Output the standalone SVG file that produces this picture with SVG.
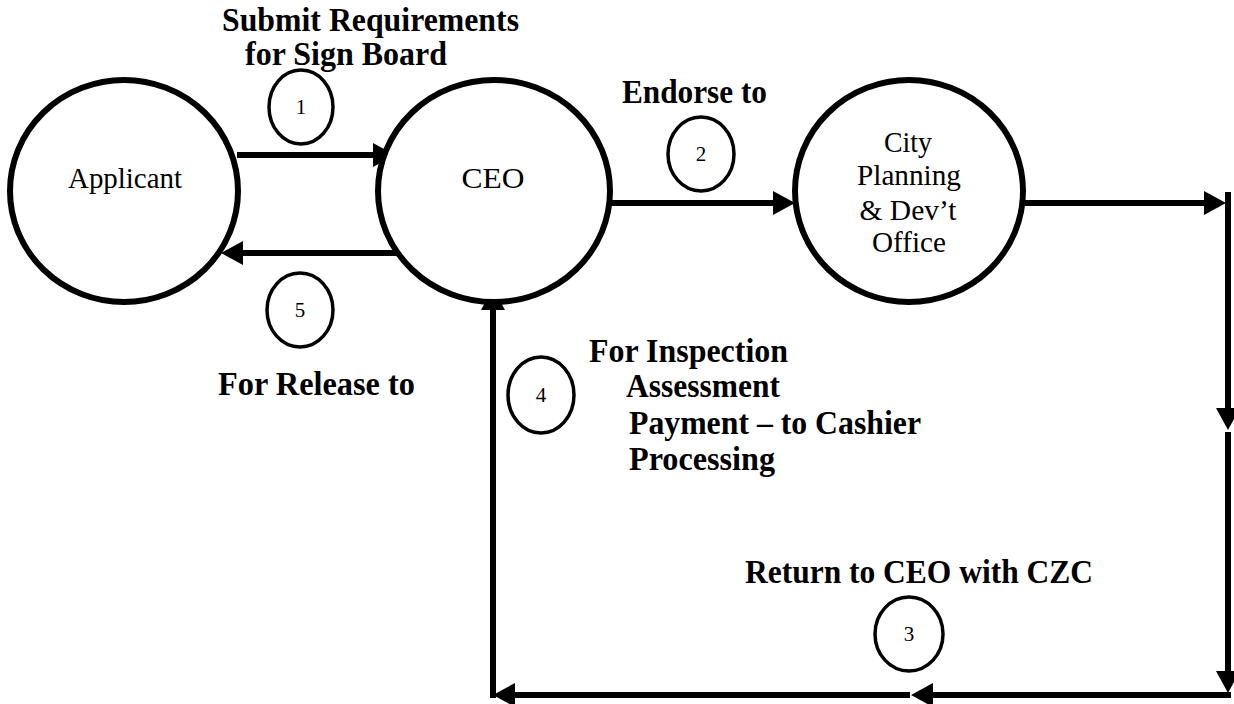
<svg xmlns="http://www.w3.org/2000/svg" width="1234" height="704" viewBox="0 0 1234 704">
<style>
.node{fill:#fff;stroke:#000;stroke-width:6}
.num{fill:#fff;stroke:#000;stroke-width:3.5}
text{font-family:'Liberation Serif','Times New Roman',Times,serif;fill:#000}
.lbl{font-weight:bold;font-size:33px}
.nt{font-size:29px;text-anchor:middle}
.nn{font-size:21px;text-anchor:middle}
.conn{stroke:#000;stroke-width:6;fill:none;marker-end:url(#ah)}
</style>
<defs>
<marker id="ah" markerUnits="userSpaceOnUse" markerWidth="22" markerHeight="24" viewBox="0 0 22 24" refX="1" refY="12" orient="auto">
<path d="M0,0 L22,12 L0,24 z" fill="#000"/>
</marker>
</defs>
<rect width="1234" height="704" fill="#fff"/>
<g id="connectors">
<line class="conn" x1="237" y1="155" x2="374" y2="155"/>
<line class="conn" x1="397" y1="253" x2="242" y2="253"/>
<line class="conn" x1="607" y1="203" x2="774" y2="203"/>
<line class="conn" x1="1024" y1="203" x2="1205" y2="203"/>
<line class="conn" x1="1228" y1="192" x2="1228" y2="409"/>
<line class="conn" x1="1228" y1="432" x2="1228" y2="672"/>
<line class="conn" x1="1231" y1="695" x2="932" y2="695"/>
<line class="conn" x1="910" y1="695" x2="514" y2="695"/>
<line class="conn" x1="493" y1="698" x2="493" y2="309"/>
</g>
<g id="applicant">
<ellipse class="node" cx="124" cy="191" rx="114" ry="111"/>
<text class="nt" x="125" y="188" textLength="114" lengthAdjust="spacingAndGlyphs">Applicant</text>
</g>
<g id="ceo">
<ellipse class="node" cx="494" cy="191" rx="116" ry="111"/>
<text class="nt" x="493" y="188" textLength="63" lengthAdjust="spacingAndGlyphs">CEO</text>
</g>
<g id="cpdo">
<ellipse class="node" cx="909" cy="191" rx="114" ry="111"/>
<text class="nt" x="908" y="152" textLength="48" lengthAdjust="spacingAndGlyphs">City</text>
<text class="nt" x="909" y="185" textLength="104" lengthAdjust="spacingAndGlyphs">Planning</text>
<text class="nt" x="908" y="220" textLength="97" lengthAdjust="spacingAndGlyphs">&amp; Dev’t</text>
<text class="nt" x="909" y="252" textLength="74" lengthAdjust="spacingAndGlyphs">Office</text>
</g>
<g id="step1">
<ellipse class="num" cx="301" cy="107" rx="32" ry="37"/>
<text class="nn" x="301" y="114">1</text>
</g>
<g id="step2">
<ellipse class="num" cx="701" cy="154" rx="33" ry="37"/>
<text class="nn" x="701" y="161">2</text>
</g>
<g id="step3">
<ellipse class="num" cx="909" cy="634" rx="34" ry="37"/>
<text class="nn" x="909" y="641">3</text>
</g>
<g id="step4">
<ellipse class="num" cx="541" cy="395" rx="33" ry="38"/>
<text class="nn" x="541" y="402">4</text>
</g>
<g id="step5">
<ellipse class="num" cx="300" cy="310" rx="33" ry="37"/>
<text class="nn" x="300" y="317">5</text>
</g>
<g id="labels">
<text class="lbl" x="222" y="31" textLength="297" lengthAdjust="spacingAndGlyphs">Submit Requirements</text>
<text class="lbl" x="245" y="65" textLength="202" lengthAdjust="spacingAndGlyphs">for Sign Board</text>
<text class="lbl" x="622" y="103" textLength="145" lengthAdjust="spacingAndGlyphs">Endorse to</text>
<text class="lbl" x="218" y="395" textLength="197" lengthAdjust="spacingAndGlyphs">For Release to</text>
<text class="lbl" x="589" y="362" textLength="199" lengthAdjust="spacingAndGlyphs">For Inspection</text>
<text class="lbl" x="626" y="397" textLength="154" lengthAdjust="spacingAndGlyphs">Assessment</text>
<text class="lbl" x="629" y="434" textLength="292" lengthAdjust="spacingAndGlyphs">Payment – to Cashier</text>
<text class="lbl" x="629" y="470" textLength="146" lengthAdjust="spacingAndGlyphs">Processing</text>
<text class="lbl" x="745" y="583" textLength="348" lengthAdjust="spacingAndGlyphs">Return to CEO with CZC</text>
</g>
</svg>
